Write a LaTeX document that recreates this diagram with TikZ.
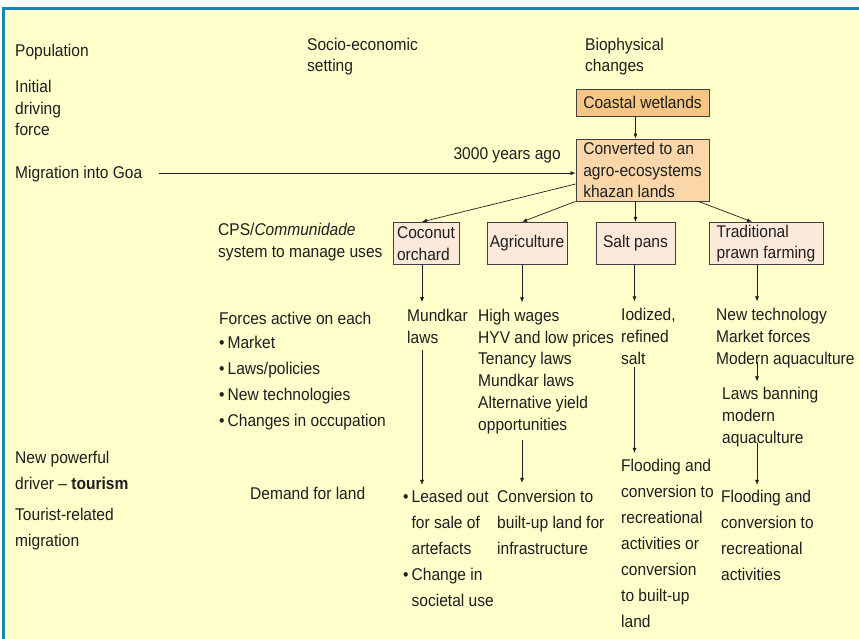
\documentclass[tikz,border=0pt]{standalone}
\usepackage{fontspec}
\setmainfont{Liberation Sans}[FakeStretch=0.915]
\usetikzlibrary{arrows.meta}

\definecolor{paperYellow}{RGB}{255,255,204}
\definecolor{frameBlue}{RGB}{24,134,172}
\definecolor{wetlandFill}{RGB}{247,198,133}
\definecolor{khazanFill}{RGB}{250,214,168}
\definecolor{useFill}{RGB}{252,233,218}
\definecolor{inkGray}{RGB}{30,30,30}

\begin{document}
\begin{tikzpicture}
[x=1pt,y=-1pt,%
  plainText/.style={anchor=base west,inner sep=0pt,align=left,text=inkGray,%
    font=\fontsize{17}{21.7}\selectfont},%
  wideText/.style={plainText,font=\fontsize{17}{26}\selectfont},%
  boxNode/.style={draw=inkGray!85,line width=0.8pt,inner sep=0pt,align=left,%
    text=inkGray,font=\fontsize{17}{21.5}\selectfont},%
  useBox/.style={boxNode,fill=useFill,minimum height=42.5pt},%
  arrowLine/.style={-{Latex[length=5pt,width=4pt]},line width=0.7pt,draw=inkGray}]
\useasboundingbox (0,0) rectangle (859,639);
%% paper and frame
\fill[white] (0,0) rectangle (859,639);
\fill[paperYellow] (3.5,8.5) rectangle (859,639);
\draw[frameBlue,line width=3pt] (3.5,639) -- (3.5,8.5) -- (859,8.5);
%% column headings and left hand labels
%% (multi line texts sit on the baseline of their last line)
\node[plainText] (population) at (15,57) {Population};
\node[plainText] (socio) at (307,72) {Socio-economic\\setting};
\node[plainText] (biophys) at (585,72) {Biophysical\\changes};
\node[plainText] (initial) at (15,136) {Initial\\driving\\force};
\node[plainText] (migration) at (15,179) {Migration into Goa};
\node[plainText,anchor=base east] (yearsAgo) at (561,160) {3000 years ago};
\node[wideText] (newDriver) at (15,489) {New powerful\\driver -- \textbf{tourism}};
\node[wideText] (touristMig) at (15,546) {Tourist-related\\migration};
%% boxes
\node[boxNode,fill=wetlandFill,minimum width=133pt,minimum height=27pt]
  (wetlands) at (642.5,102.5) {Coastal wetlands};
\node[boxNode,fill=khazanFill,minimum width=133pt,minimum height=62pt]
  (khazan) at (642.5,170) {Converted to an\\agro-ecosystems\\khazan lands};
\foreach \name/\x/\w/\txt in {coconut/426/66/{Coconut\\orchard},
  agri/527/80/{Agriculture}, salt/635.5/79/{Salt pans},
  prawn/766/114/{Traditional\\prawn farming}}
{
  \node[useBox,minimum width=\w pt] (\name) at (\x,243.5) {\txt};
}
%% columns of the down arrows
\coordinate (colCoco) at (422,0);
\coordinate (colAgri) at (522,0);
\coordinate (colSalt) at (634.5,0);
\coordinate (colTrad) at (757,0);
%% middle labels
\node[plainText] (cps) at (218,257) {CPS/\textit{Communidade}\\system to manage uses};
\node[wideText] (forces) at (219,426) {Forces active on each\\[-2pt]
  \textbullet\hspace{3pt}Market\\
  \textbullet\hspace{3pt}Laws/policies\\
  \textbullet\hspace{3pt}New technologies\\
  \textbullet\hspace{3pt}Changes in occupation};
\node[plainText] (demand) at (250,499) {Demand for land};
%% what acts on each use
\node[plainText] (mundkar) at (407,343) {Mundkar\\laws};
\node[plainText] (wages) at (478,430) {High wages\\HYV and low prices\\Tenancy laws\\%
  Mundkar laws\\Alternative yield\\opportunities};
\node[plainText] (iodized) at (621,364) {Iodized,\\refined\\salt};
\node[plainText] (newTech) at (716,364) {New technology\\Market forces\\Modern aquaculture};
\node[plainText] (banLaws) at (722,443) {Laws banning\\modern\\aquaculture};
%% outcomes
\node[wideText] (leased) at (403,606) {\textbullet\hspace{3pt}Leased out\\
  \hphantom{\textbullet\hspace{3pt}}for sale of\\
  \hphantom{\textbullet\hspace{3pt}}artefacts\\
  \textbullet\hspace{3pt}Change in\\
  \hphantom{\textbullet\hspace{3pt}}societal use};
\node[wideText] (builtup) at (497,554) {Conversion to\\built-up land for\\infrastructure};
\node[wideText] (floodSalt) at (621,627) {Flooding and\\conversion to\\recreational\\%
  activities or\\conversion\\to built-up\\land};
\node[wideText] (floodPrawn) at (721,580) {Flooding and\\conversion to\\recreational\\activities};
%% arrows
\draw[arrowLine] (wetlands.south -| salt) -- (khazan.north -| salt);
\draw[arrowLine,shorten <=16pt] ([yshift=1.5pt]migration.east) -- ([yshift=1.5pt]migration.east -| khazan.west);
\draw[arrowLine] ([yshift=-14pt]khazan.west) -- ([xshift=-4pt]coconut.north);
\draw[arrowLine] (khazan.south west) -- ([xshift=-5pt]agri.north);
\draw[arrowLine] (khazan.south -| salt) -- (salt.north);
\draw[arrowLine] ([xshift=-11pt]khazan.south east) -- ([xshift=-14pt]prawn.north);
\draw[arrowLine,shorten >=6.6pt] (colCoco |- coconut.south) -- (colCoco |- mundkar.north);
\draw[arrowLine,shorten <=7pt,shorten >=4.6pt] (colCoco |- mundkar.south) -- (colCoco |- leased.north);
\draw[arrowLine,shorten >=6.6pt] (colAgri |- agri.south) -- (colAgri |- wages.north);
\draw[arrowLine,shorten <=6.4pt,shorten >=6.6pt] (colAgri |- wages.south) -- (colAgri |- builtup.north);
\draw[arrowLine,shorten >=6.6pt] (colSalt |- salt.south) -- (colSalt |- iodized.north);
\draw[arrowLine,shorten <=3pt,shorten >=5.6pt] (colSalt |- iodized.south) -- (colSalt |- floodSalt.north);
\draw[arrowLine,shorten >=6.6pt] (colTrad |- prawn.south) -- (colTrad |- newTech.north);
\draw[arrowLine,shorten <=-5.6pt,shorten >=5.6pt] (colTrad |- newTech.south) -- (colTrad |- banLaws.north);
\draw[arrowLine,shorten <=-3.6pt,shorten >=4.6pt] (colTrad |- banLaws.south) -- (colTrad |- floodPrawn.north);
\end{tikzpicture}
\end{document}
